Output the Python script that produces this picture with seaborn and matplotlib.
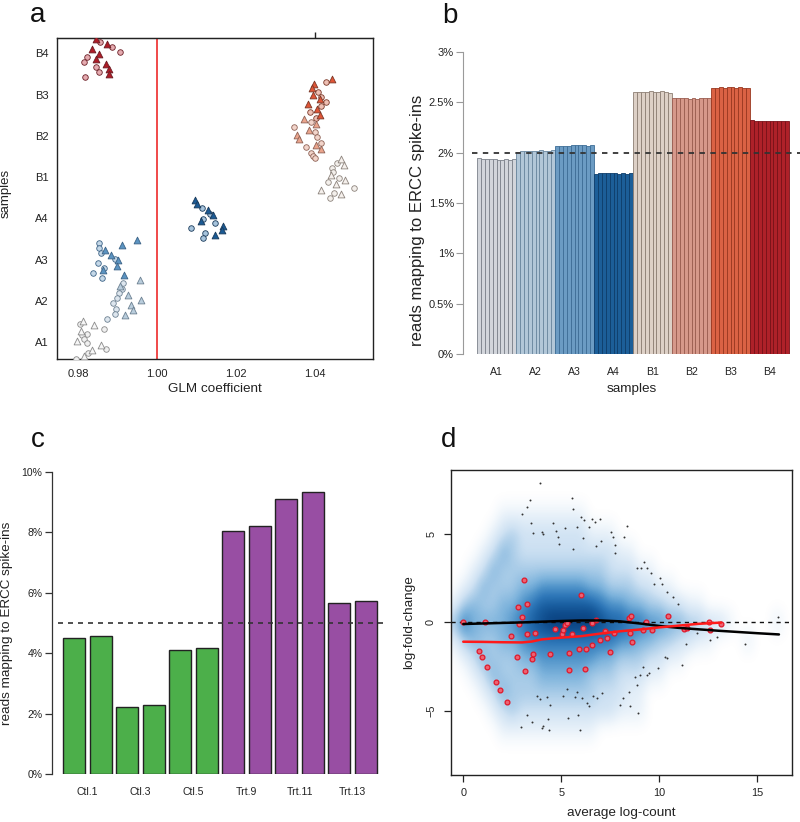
import numpy as np
import pandas as pd
import matplotlib
matplotlib.use("Agg")
import matplotlib.pyplot as plt
from matplotlib.colors import LinearSegmentedColormap
import seaborn as sns

# ================= panel a : GLM coefficient per sample =================
a_samples = ["A1", "A2", "A3", "A4", "B1", "B2", "B3", "B4"]

A1_coef = [0.9811, 0.9805, 0.9839, 0.9864, 0.9807, 0.9821, 0.9809, 0.9814, 0.9796, 0.9822, 0.9857, 0.9869, 0.9835, 0.9825, 0.9815, 0.9794]
A1_pos = [1.51, 1.445, 1.405, 1.32, 1.26, 1.20, 1.17, 1.08, 1.03, 0.97, 0.92, 0.83, 0.80, 0.74, 0.67, 0.60]
A1_shape = "tctctccctctctctc"

A2_coef = [0.9957, 0.9914, 0.9906, 0.9911, 0.9902, 0.9927, 0.9899, 0.9960, 0.9889, 0.9933, 0.9895, 0.9939, 0.9894, 0.9918, 0.9873]
A2_pos = [2.50, 2.42, 2.35, 2.29, 2.20, 2.13, 2.07, 2.01, 1.94, 1.89, 1.81, 1.77, 1.69, 1.65, 1.57]
A2_shape = "tctcctctctctctc"

A3_coef = [0.9949, 0.9853, 0.9911, 0.9853, 0.9867, 0.9857, 0.9882, 0.9894, 0.9901, 0.9850, 0.9898, 0.9865, 0.9862, 0.9838, 0.9916, 0.9859]
A3_pos = [3.48, 3.39, 3.35, 3.27, 3.22, 3.17, 3.10, 3.02, 2.98, 2.91, 2.85, 2.80, 2.74, 2.67, 2.62, 2.55]
A3_shape = "tctctctctctctctc"

A4_coef = [1.0095, 1.0100, 1.0113, 1.0128, 1.0133, 1.0141, 1.0116, 1.0111, 1.0147, 1.0168, 1.0085, 1.0165, 1.0120, 1.0146, 1.0116]
A4_pos = [4.44, 4.34, 4.24, 4.20, 4.11, 4.07, 3.99, 3.94, 3.89, 3.82, 3.76, 3.71, 3.65, 3.59, 3.52]
A4_shape = "ttctctctctctctc"

B1_coef = [1.0465, 1.0456, 1.0473, 1.0442, 1.0446, 1.0440, 1.0462, 1.0475, 1.0433, 1.0454, 1.0498, 1.0414, 1.0449, 1.0467, 1.0437]
B1_pos = [5.43, 5.35, 5.30, 5.22, 5.13, 5.06, 4.98, 4.92, 4.87, 4.82, 4.74, 4.69, 4.62, 4.58, 4.50]
B1_shape = "tctcctctctctctc"

B2_coef = [1.0371, 1.0391, 1.0402, 1.0348, 1.0385, 1.0401, 1.0355, 1.0405, 1.0359, 1.0414, 1.0402, 1.0376, 1.0416, 1.0391, 1.0395, 1.0399]
B2_pos = [6.40, 6.33, 6.28, 6.21, 6.15, 6.10, 6.02, 5.97, 5.91, 5.83, 5.78, 5.72, 5.67, 5.59, 5.52, 5.47]
B2_shape = "tctctctctctctccc"

B3_coef = [1.0443, 1.0429, 1.0397, 1.0393, 1.0408, 1.0395, 1.0416, 1.0412, 1.0429, 1.0382, 1.0414, 1.0406, 1.0387, 1.0412, 1.0402]
B3_pos = [7.37, 7.30, 7.25, 7.17, 7.07, 7.00, 6.94, 6.88, 6.82, 6.77, 6.72, 6.65, 6.57, 6.51, 6.44]
B3_shape = "tcttctctctctctc"

B4_coef = [0.9844, 0.9855, 0.9873, 0.9886, 0.9834, 0.9905, 0.9852, 0.9823, 0.9846, 0.9814, 0.9870, 0.9846, 0.9877, 0.9852, 0.9878, 0.9818]
B4_pos = [8.35, 8.27, 8.23, 8.15, 8.10, 8.03, 7.98, 7.91, 7.85, 7.79, 7.73, 7.66, 7.61, 7.55, 7.50, 7.42]
B4_shape = "tctctctctctctctc"

a_xticks = [0.98, 1.00, 1.02, 1.04]
a_xticklabels = ["0.98", "1.00", "1.02", "1.04"]

# ================= panel b : % reads mapping to ERCC, 10 libraries each ============
b_groups = ["A1", "A2", "A3", "A4", "B1", "B2", "B3", "B4"]
b_A1 = [1.945, 1.94, 1.94, 1.935, 1.935, 1.93, 1.93, 1.935, 1.93, 1.935]
b_A2 = [2.01, 2.015, 2.02, 2.015, 2.02, 2.02, 2.025, 2.02, 2.02, 2.025]
b_A3 = [2.07, 2.07, 2.065, 2.07, 2.075, 2.075, 2.075, 2.075, 2.07, 2.08]
b_A4 = [1.79, 1.795, 1.80, 1.80, 1.795, 1.795, 1.79, 1.795, 1.79, 1.80]
b_B1 = [2.60, 2.60, 2.605, 2.60, 2.61, 2.60, 2.605, 2.615, 2.60, 2.595]
b_B2 = [2.545, 2.54, 2.54, 2.54, 2.535, 2.54, 2.53, 2.54, 2.545, 2.54]
b_B3 = [2.64, 2.645, 2.65, 2.645, 2.65, 2.65, 2.645, 2.65, 2.645, 2.64]
b_B4 = [2.325, 2.32, 2.315, 2.32, 2.32, 2.32, 2.32, 2.32, 2.32, 2.315]
b_ref = 2.0
b_yticks = [0, 0.5, 1, 1.5, 2, 2.5, 3]
b_yticklabels = ["0%", "0.5%", "1%", "1.5%", "2%", "2.5%", "3%"]

# ================= panel c : % reads mapping to ERCC, 12 libraries ============
c_names = ["Ctl.1", "Ctl.2", "Ctl.3", "Ctl.4", "Ctl.5", "Ctl.6",
           "Trt.9", "Trt.10", "Trt.11", "Trt.12", "Trt.13", "Trt.14"]
c_values = [4.50, 4.56, 2.23, 2.27, 4.12, 4.18, 8.06, 8.21, 9.10, 9.34, 5.65, 5.73]
c_group = ["Ctl"] * 6 + ["Trt"] * 6
c_ticklabels = ["Ctl.1", "Ctl.3", "Ctl.5", "Trt.9", "Trt.11", "Trt.13"]
c_ref = 5.0
c_yticks = [0, 2, 4, 6, 8, 10]
c_yticklabels = ["0%", "2%", "4%", "6%", "8%", "10%"]

# ================= panel d : MA plot ============
# smoothed density (0 = none .. 9 = densest)
d_dens_x = [i * 0.5 - 0.5 for i in range(35)]      # column centres (average log-count)
d_dens_y = list(range(8, -9, -1))                  # row centres (log-fold-change)
d_density = [
    "00000000000000000000000000000000000",
    "00000000000000000000000000000000000",
    "00000111111111000000000000000000000",
    "00001232222222111000000000000000000",
    "00012432222222222110000000000000000",
    "00124333333333332221100000000000000",
    "01243334455555443332211000000000000",
    "13433445677777765544332211000000000",
    "36444456789999987766554433221000010",
    "13433445666666666554433221100010000",
    "01243334455555544333221100000000000",
    "00124333344444333222110000000000000",
    "00012433333333322211000000000000000",
    "00001232222222222111000000000000000",
    "00000111111111100000000000000000000",
    "00000000000000000000000000000000000",
    "00000000000000000000000000000000000",
]
d_gene_A = [3.91, 3.01, 3.23, 3.40, 3.45, 3.57, 4.00, 4.08, 4.59, 4.73, 4.85, 4.90, 5.19, 5.54, 5.61, 5.58,
            5.78, 5.99, 6.17, 6.09, 6.41, 6.55, 6.72, 6.95, 6.79, 7.02, 7.53, 7.62, 7.74, 7.76, 8.20, 8.37,
            8.84, 9.05, 9.23, 9.39, 9.56, 9.73, 10.03, 10.12, 10.37, 10.68, 10.97,
            3.78, 3.91, 4.25, 4.42, 5.10, 5.27, 5.70, 5.78, 6.04, 6.29, 6.41, 6.63, 6.80, 7.06,
            3.23, 3.49, 4.08, 4.34, 4.39, 5.36, 5.95, 5.87, 2.93, 4.00,
            8.76, 8.84, 9.01, 9.18, 9.35, 9.49, 9.95, 10.29, 10.37, 11.14, 11.36, 8.47, 8.50, 7.99, 8.91, 8.13,
            12.59, 12.93, 11.90, 14.37, 16.07]
d_gene_M = [7.87, 6.08, 6.52, 6.89, 5.57, 5.01, 5.10, 4.97, 5.57, 5.14, 4.82, 4.39, 5.33, 6.99, 6.38, 4.12,
            5.39, 5.91, 5.76, 4.73, 5.39, 5.80, 5.67, 5.80, 4.31, 4.59, 5.07, 4.82, 4.35, 3.88, 4.82, 5.42,
            3.03, 3.03, 3.41, 3.03, 2.75, 2.15, 2.47, 2.15, 1.68, 1.39, 1.00,
            -4.18, -4.37, -4.22, -4.69, -4.18, -3.77, -4.22, -3.94, -4.27, -4.60, -4.75, -4.20, -4.27, -4.03,
            -5.25, -5.63, -5.88, -5.50, -6.10, -5.40, -6.10, -5.25, -5.91, -6.00,
            -3.09, -3.56, -2.99, -2.52, -2.99, -2.86, -2.62, -1.96, -2.05, -2.43, -1.22, -3.94, -4.75, -4.69, -5.12, -4.31,
            -1.02, -0.83, -0.60, -1.26, 0.30]
d_spike_A = [0, 1.11, 0.78, 0.95, 1.22, 1.67, 1.89, 2.21, 2.43, 2.72, 2.79, 2.84, 3.01, 3.10, 3.15, 3.25, 3.25,
             3.50, 3.57, 3.66, 4.40, 4.69, 5.02, 5.10, 5.20, 5.29, 5.37, 5.39, 5.53, 5.90, 6.02, 6.11, 6.21,
             6.26, 6.55, 6.56, 6.75, 6.99, 7.23, 7.31, 7.48, 7.70, 8.44, 8.57, 8.50, 8.61, 9.15, 9.30, 9.61,
             10.43, 11.24, 11.43, 12.55, 12.59, 13.15]
d_spike_M = [0, 0, -1.62, -1.98, -2.52, -3.39, -3.84, -4.52, -0.77, -1.96, 0.87, -0.11, 0.30, 2.35, -2.79, 1.02,
             -0.68, -2.11, -1.81, -0.64, -1.81, -0.41, -0.68, -0.45, -0.17, -0.06, -1.73, -2.71, -0.70, -1.51,
             1.53, -0.34, -2.67, -1.53, -0.06, -1.28, 0.13, -1.02, -0.51, -0.89, -1.69, -0.60, 0.21, 0.34,
             -0.60, -1.13, -0.47, 0, -0.43, 0.36, -0.41, -0.36, 0, -0.43, -0.11]
d_trend_A = [0, 1, 2, 3, 4, 5, 6, 7, 8, 9, 10, 11, 12, 13, 14, 15, 16.1]
d_trend_M = [-0.11, -0.08, -0.05, -0.02, 0.02, 0.06, 0.09, 0.09, 0.04, -0.08, -0.22, -0.33, -0.41, -0.49, -0.56, -0.63, -0.70]
d_spike_trend_A = [0, 1, 2, 3, 3.5, 4, 5, 6, 7, 8, 9, 10, 11, 12, 13.15]
d_spike_trend_M = [-1.11, -1.12, -1.14, -1.15, -1.10, -0.98, -0.88, -0.80, -0.65, -0.52, -0.42, -0.30, -0.20, -0.10, -0.03]

# ================= styling =================
sns.set_style("ticks")
plt.rcParams["font.family"] = ["Liberation Sans", "DejaVu Sans"]
TXT = "#222222"

fig = plt.figure(figsize=(8.0, 8.22), dpi=100)
W, H = 800.0, 822.0


def box(l, t, r, b):
    return [l / W, 1 - b / H, (r - l) / W, (b - t) / H]


# ---------------- panel a ----------------
axa = fig.add_axes(box(57, 38, 373, 359))
a_data = {"A1": (A1_coef, A1_pos, A1_shape), "A2": (A2_coef, A2_pos, A2_shape),
          "A3": (A3_coef, A3_pos, A3_shape), "A4": (A4_coef, A4_pos, A4_shape),
          "B1": (B1_coef, B1_pos, B1_shape), "B2": (B2_coef, B2_pos, B2_shape),
          "B3": (B3_coef, B3_pos, B3_shape), "B4": (B4_coef, B4_pos, B4_shape)}
a_style = {  # triangle fill, circle fill, edge
    "A1": ("#f6f6f6", "#f0f0f0", "#8a8a8a"),
    "A2": ("#b9cddc", "#dde6ee", "#6d8192"),
    "A3": ("#5b93c1", "#c5d8e8", "#3c6386"),
    "A4": ("#1b5a94", "#a7c4dc", "#1a3a5a"),
    "B1": ("#f5f0ec", "#f3efeb", "#8c837c"),
    "B2": ("#eaa48c", "#f2d4ca", "#8e6256"),
    "B3": ("#df5537", "#eec0b4", "#7a3828"),
    "B4": ("#ae1c27", "#e5abb0", "#6a1e25"),
}
for s in a_samples:
    coef, pos, shp = a_data[s]
    tf, cf, ec = a_style[s]
    df = pd.DataFrame({"coef": coef, "pos": pos, "shape": list(shp)})
    dc = df[df["shape"] == "c"]
    dt = df[df["shape"] == "t"]
    sns.scatterplot(data=dc, x="coef", y="pos", marker="o", s=16, color=cf,
                    edgecolor=ec, linewidth=0.6, ax=axa, zorder=3)
    sns.scatterplot(data=dt, x="coef", y="pos", marker="^", s=24, color=tf,
                    edgecolor=ec, linewidth=0.6, ax=axa, zorder=3)
axa.axvline(1.0, color="#ee2b2b", lw=1.2, zorder=2)
axa.set_xlim(0.9746, 1.0547)
axa.set_ylim(0.59, 8.37)
axa.set_xticks(a_xticks)
axa.set_xticklabels(a_xticklabels)
axa.set_yticks(range(1, 9))
axa.set_yticklabels(a_samples)
axa.tick_params(axis="both", length=0, labelsize=8, labelcolor=TXT)
axa.tick_params(axis="x", pad=7)
axa.tick_params(axis="y", pad=6)
for sp in axa.spines.values():
    sp.set_visible(True)
    sp.set_color("#222222")
    sp.set_linewidth(1.0)
sec = axa.secondary_xaxis("top")
sec.set_xticks([1.04])
sec.set_xticklabels([""])
sec.tick_params(length=4, width=1.0, color="#222222", direction="out")
axa.set_xlabel("GLM coefficient", fontsize=9.7, color=TXT)
axa.set_ylabel("samples", fontsize=9.5, color=TXT)
axa.xaxis.set_label_coords(0.5, -0.075)
axa.yaxis.set_label_coords(-0.142, 0.515)

# ---------------- panel b ----------------
axb = fig.add_axes(box(463, 40, 800, 354))
b_vals_all = b_A1 + b_A2 + b_A3 + b_A4 + b_B1 + b_B2 + b_B3 + b_B4
b_fill = {"A1": "#d2d5db", "A2": "#b2c7d8", "A3": "#6b9bc3", "A4": "#1c5e98",
          "B1": "#ddd0c6", "B2": "#d6988a", "B3": "#da6244", "B4": "#ae2129"}
b_edge = {"A1": "#7c818b", "A2": "#6a879f", "A3": "#3d6d96", "A4": "#0e3d6b",
          "B1": "#8d7e73", "B2": "#9a5c4f", "B3": "#993820", "B4": "#781118"}
b_grp_of_bar = [g for g in b_groups for _ in range(10)]
b_bar = [f"{i:02d}" for i in range(len(b_vals_all))]
dfb = pd.DataFrame({"bar": b_bar, "pct": b_vals_all, "grp": b_grp_of_bar})
sns.barplot(data=dfb, x="bar", y="pct", hue="bar",
            palette=[b_fill[g] for g in b_grp_of_bar], legend=False,
            saturation=1, width=1.0, linewidth=0.6, ax=axb, zorder=2)
for patch, g in zip(axb.patches, b_grp_of_bar):
    patch.set_edgecolor(b_edge[g])
axb.axhline(b_ref, xmin=9 / 337, xmax=1.0, color="#333333", lw=1.3,
            ls=(0, (3, 3)), zorder=5)
axb.set_xlim(-4.09, 82.3)
axb.set_ylim(0, 3.12)
axb.set_xticks([i * 10 + 4.5 for i in range(8)])
axb.set_xticklabels(b_groups)
axb.set_yticks(b_yticks)
axb.set_yticklabels(b_yticklabels)
axb.tick_params(axis="x", length=0, pad=9, labelsize=7.6, labelcolor=TXT)
axb.tick_params(axis="y", length=5, width=0.8, color="#9a9a9a", pad=1.5,
                labelsize=8, labelcolor=TXT)
for side in ["top", "right", "bottom"]:
    axb.spines[side].set_visible(False)
axb.spines["left"].set_bounds(0, 3)
axb.spines["left"].set_color("#9a9a9a")
axb.spines["left"].set_linewidth(0.8)
axb.set_xlabel("samples", fontsize=9.7, color=TXT)
axb.set_ylabel("reads mapping to ERCC spike-ins", fontsize=12, color=TXT)
axb.xaxis.set_label_coords(0.5, -0.092)
axb.yaxis.set_label_coords(-0.113, 0.427)

# ---------------- panel c ----------------
axc = fig.add_axes(box(52, 460, 390, 774))
dfc = pd.DataFrame({"name": c_names, "pct": c_values, "grp": c_group})
c_col = {"Ctl": "#4caf4a", "Trt": "#984ea3"}
sns.barplot(data=dfc, x="name", y="pct", hue="name",
            palette=[c_col[g] for g in c_group], legend=False, saturation=1,
            width=0.833, edgecolor="#222222", linewidth=1.0, ax=axc, zorder=2)
axc.axhline(c_ref, xmin=6 / 338, xmax=335 / 338, color="#333333", lw=1.2,
            ls=(0, (3, 3)), zorder=5)
axc.set_xlim(-0.831, 11.91)
axc.set_ylim(0, 10.4)
axc.set_xticks([0.5, 2.5, 4.5, 6.5, 8.5, 10.5])
axc.set_xticklabels(c_ticklabels)
axc.set_yticks(c_yticks)
axc.set_yticklabels(c_yticklabels)
axc.tick_params(axis="x", length=0, pad=9.5, labelsize=7.6, labelcolor=TXT)
axc.tick_params(axis="y", length=5, width=0.9, color="#333333", pad=2,
                labelsize=7.5, labelcolor=TXT)
for side in ["top", "right", "bottom"]:
    axc.spines[side].set_visible(False)
axc.spines["left"].set_bounds(0, 10)
axc.spines["left"].set_color("#333333")
axc.spines["left"].set_linewidth(0.9)
axc.set_xlabel("")
axc.set_ylabel("reads mapping to ERCC spike-ins", fontsize=9.7, color=TXT)
axc.yaxis.set_label_coords(-0.115, 0.48)

# ---------------- panel d ----------------
axd = fig.add_axes(box(450.7, 470, 791.7, 775))
dens = np.array([[int(ch) for ch in row] for row in d_density], dtype=float)
smooth_cmap = LinearSegmentedColormap.from_list(
    "smooth", ["#ffffff", "#e6f0f9", "#cfe2f3", "#a9cce8", "#7db3dc",
               "#4f93c9", "#2e77b8", "#1a5fa1", "#0e4a8a", "#0a3670"])
axd.imshow(dens, extent=(d_dens_x[0] - 0.25, d_dens_x[-1] + 0.25,
                         d_dens_y[-1] - 0.5, d_dens_y[0] + 0.5),
           origin="upper", aspect="auto", cmap=smooth_cmap, vmin=0, vmax=9,
           interpolation="bicubic", zorder=0)
sns.scatterplot(x=d_gene_A, y=d_gene_M, s=2.0, color="#333333", linewidth=0,
                ax=axd, zorder=2)
axd.axhline(0, color="#111111", lw=1.0, ls=(0, (3, 3)), zorder=3)
sns.scatterplot(x=d_spike_A, y=d_spike_M, s=12, color="#ec6373",
                edgecolor="#e0182a", linewidth=0.9, ax=axd, zorder=4)
sns.lineplot(x=d_trend_A, y=d_trend_M, color="black", lw=1.8, ax=axd,
             estimator=None, sort=False, zorder=5)
sns.lineplot(x=d_spike_trend_A, y=d_spike_trend_M, color="#ff1a1a", lw=1.8,
             ax=axd, estimator=None, sort=False, zorder=6)
axd.set_xlim(-0.64, 16.75)
axd.set_ylim(-8.64, 8.59)
axd.set_xticks([0, 5, 10, 15])
axd.set_yticks([-5, 0, 5])
axd.set_yticklabels(["\u22125", "0", "5"])
axd.tick_params(axis="both", length=5, width=0.9, color="#222222",
                labelsize=7.8, labelcolor=TXT)
axd.tick_params(axis="x", pad=4)
axd.tick_params(axis="y", pad=5.5, labelrotation=90)
for lab in axd.get_yticklabels():
    lab.set_verticalalignment("center")
for sp in axd.spines.values():
    sp.set_visible(True)
    sp.set_color("#222222")
    sp.set_linewidth(1.0)
axd.set_xlabel("average log-count", fontsize=9.7, color=TXT)
axd.set_ylabel("log-fold-change", fontsize=9.7, color=TXT)
axd.xaxis.set_label_coords(0.5, -0.105)
axd.yaxis.set_label_coords(-0.105, 0.5)

# ---------------- panel letters ----------------
for letter, x, y in [("a", 30, 22), ("b", 442, 23), ("c", 31, 447), ("d", 441, 447)]:
    fig.text(x / W, 1 - y / H, letter, fontsize=20, color="#111111",
             ha="left", va="baseline")

fig.savefig("out.png", dpi=100)
